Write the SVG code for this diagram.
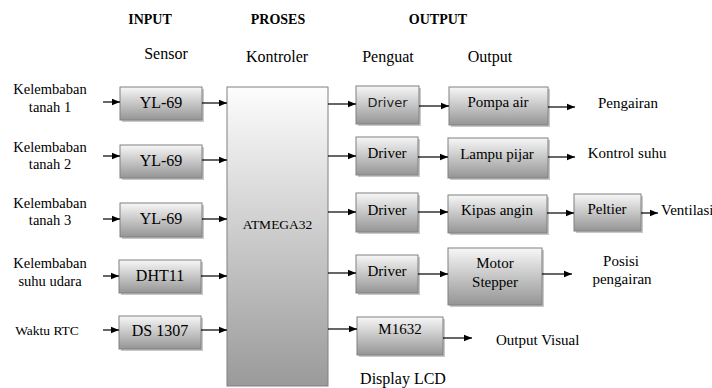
<svg xmlns="http://www.w3.org/2000/svg" width="712" height="388" viewBox="0 0 712 388">
<defs>
  <linearGradient id="g" x1="0" y1="0" x2="0" y2="1">
    <stop offset="0" stop-color="#f7f7f7"/>
    <stop offset="1" stop-color="#959595"/>
  </linearGradient>
  <linearGradient id="gb" x1="0" y1="0" x2="0" y2="1">
    <stop offset="0" stop-color="#fdfdfd"/>
    <stop offset="1" stop-color="#9a9a9a"/>
  </linearGradient>
  <marker id="ah" viewBox="0 0 10 10" refX="10" refY="5" markerWidth="8" markerHeight="8" markerUnits="userSpaceOnUse" orient="auto">
    <path d="M0,1 L10,5 L0,9 z" fill="#000"/>
  </marker>
</defs>
<style>
  .box { fill: url(#g); stroke: #808080; stroke-width: 1; }
  .shd { fill: #c8c8c8; stroke: none; }
  .big { fill: url(#gb); stroke: #808080; stroke-width: 1; }
  text { font-family: "Liberation Serif", serif; fill: #000; }
  text.s { font-family: "DejaVu Sans", sans-serif; fill: #222; }
  text.h { font-weight: bold; font-size: 14px; }
  .c { text-anchor: middle; }
  .cn line { stroke: #000; stroke-width: 1.2; marker-end: url(#ah); }
</style>

<g id="headers">
  <text class="h c" x="150" y="24">INPUT</text>
  <text class="h c" x="278" y="24">PROSES</text>
  <text class="h c" x="438" y="24">OUTPUT</text>
  <text class="c" x="166" y="59" font-size="16">Sensor</text>
  <text class="c" x="277" y="62" font-size="16">Kontroler</text>
  <text class="c" x="388" y="62" font-size="16">Penguat</text>
  <text class="c" x="490" y="62" font-size="16">Output</text>
</g>

<g id="input-labels" font-size="14.5">
  <text class="c" x="50" y="94">Kelembaban</text>
  <text class="c" x="50" y="112">tanah 1</text>
  <text class="c" x="50" y="152">Kelembaban</text>
  <text class="c" x="50" y="169">tanah 2</text>
  <text class="c" x="50" y="208">Kelembaban</text>
  <text class="c" x="50" y="225">tanah 3</text>
  <text class="c" x="50" y="268">Kelembaban</text>
  <text class="c" x="50" y="286">suhu udara</text>
  <text class="c" x="47" y="335" font-size="13.5">Waktu RTC</text>
</g>

<g id="sensor1"><rect class="shd" x="122" y="89" width="82" height="33"/><rect class="box" x="120" y="87" width="82" height="33"/><text class="c" x="161" y="108" font-size="16">YL-69</text></g>
<g id="sensor2"><rect class="shd" x="122" y="147" width="82" height="33"/><rect class="box" x="120" y="145" width="82" height="33"/><text class="c" x="161" y="166" font-size="16">YL-69</text></g>
<g id="sensor3"><rect class="shd" x="122" y="205" width="82" height="34"/><rect class="box" x="120" y="203" width="82" height="34"/><text class="c" x="161" y="224" font-size="16">YL-69</text></g>
<g id="sensor4"><rect class="shd" x="121" y="262" width="82" height="33"/><rect class="box" x="119" y="260" width="82" height="33"/><text class="c" x="160" y="281" font-size="16">DHT11</text></g>
<g id="sensor5"><rect class="shd" x="121" y="318" width="82" height="33"/><rect class="box" x="119" y="316" width="82" height="33"/><text class="c" x="160" y="336" font-size="16">DS 1307</text></g>

<g id="controller"><rect class="big" x="227" y="87" width="101" height="299"/><text class="c" x="277.5" y="229" font-size="13.5">ATMEGA32</text></g>

<g id="driver1"><rect class="shd" x="358" y="88" width="63" height="38"/><rect class="box" x="356" y="86" width="63" height="38"/><text class="s c" x="387.5" y="107" font-size="13">Driver</text></g>
<g id="driver2"><rect class="shd" x="358" y="139" width="62" height="38"/><rect class="box" x="356" y="137" width="62" height="38"/><text class="c" x="387" y="158" font-size="15">Driver</text></g>
<g id="driver3"><rect class="shd" x="358" y="195" width="62" height="39"/><rect class="box" x="356" y="193" width="62" height="39"/><text class="c" x="387" y="215" font-size="15">Driver</text></g>
<g id="driver4"><rect class="shd" x="358" y="257" width="62" height="38"/><rect class="box" x="356" y="255" width="62" height="38"/><text class="c" x="387" y="276" font-size="15">Driver</text></g>
<g id="lcd"><rect class="shd" x="359" y="319" width="86" height="38"/><rect class="box" x="357" y="317" width="86" height="38"/><text class="c" x="400" y="334" font-size="15">M1632</text></g>

<g id="out1"><rect class="shd" x="451" y="89" width="99" height="38"/><rect class="box" x="449" y="87" width="99" height="38"/><text class="c" x="498" y="107" font-size="15">Pompa air</text></g>
<g id="out2"><rect class="shd" x="450" y="140" width="100" height="40"/><rect class="box" x="448" y="138" width="100" height="40"/><text class="c" x="497" y="159" font-size="15">Lampu pijar</text></g>
<g id="out3"><rect class="shd" x="450" y="197" width="99" height="38"/><rect class="box" x="448" y="195" width="99" height="38"/><text class="c" x="497" y="215" font-size="15">Kipas angin</text></g>
<g id="out4"><rect class="shd" x="450" y="250" width="94" height="57"/><rect class="box" x="448" y="248" width="94" height="57"/><text class="c" x="495" y="268" font-size="15">Motor</text><text class="c" x="495" y="287" font-size="15">Stepper</text></g>
<g id="peltier"><rect class="shd" x="576" y="196" width="67" height="37"/><rect class="box" x="574" y="194" width="67" height="37"/><text class="c" x="607" y="214" font-size="15">Peltier</text></g>

<g id="result-labels" font-size="15">
  <text class="c" x="628" y="108">Pengairan</text>
  <text class="c" x="627" y="158">Kontrol suhu</text>
  <text x="661" y="215">Ventilasi</text>
  <text class="c" x="621" y="266">Posisi</text>
  <text class="c" x="622" y="284">pengairan</text>
  <text x="496" y="345">Output Visual</text>
  <text class="c" x="403" y="384" font-size="16">Display LCD</text>
</g>

<g id="connectors" class="cn">
  <line x1="103" y1="102" x2="120" y2="102"/>
  <line x1="103" y1="156" x2="120" y2="156"/>
  <line x1="103" y1="219" x2="120" y2="219"/>
  <line x1="103" y1="276" x2="119" y2="276"/>
  <line x1="103" y1="330" x2="119" y2="330"/>
  <line x1="202" y1="103" x2="227" y2="103"/>
  <line x1="202" y1="160" x2="227" y2="160"/>
  <line x1="202" y1="219" x2="227" y2="219"/>
  <line x1="201" y1="276" x2="227" y2="276"/>
  <line x1="201" y1="330" x2="227" y2="330"/>
  <line x1="328" y1="104" x2="356" y2="104"/>
  <line x1="328" y1="156" x2="356" y2="156"/>
  <line x1="328" y1="212" x2="356" y2="212"/>
  <line x1="328" y1="273" x2="356" y2="273"/>
  <line x1="328" y1="329" x2="357" y2="329"/>
  <line x1="419" y1="106" x2="449" y2="106"/>
  <line x1="418" y1="157" x2="448" y2="157"/>
  <line x1="418" y1="212" x2="448" y2="212"/>
  <line x1="418" y1="274" x2="448" y2="274"/>
  <line x1="548" y1="107" x2="575" y2="107"/>
  <line x1="548" y1="157" x2="575" y2="157"/>
  <line x1="547" y1="213" x2="574" y2="213"/>
  <line x1="641" y1="213" x2="658" y2="213"/>
  <line x1="542" y1="274" x2="572" y2="274"/>
  <line x1="443" y1="338" x2="472" y2="338"/>
</g>
</svg>
